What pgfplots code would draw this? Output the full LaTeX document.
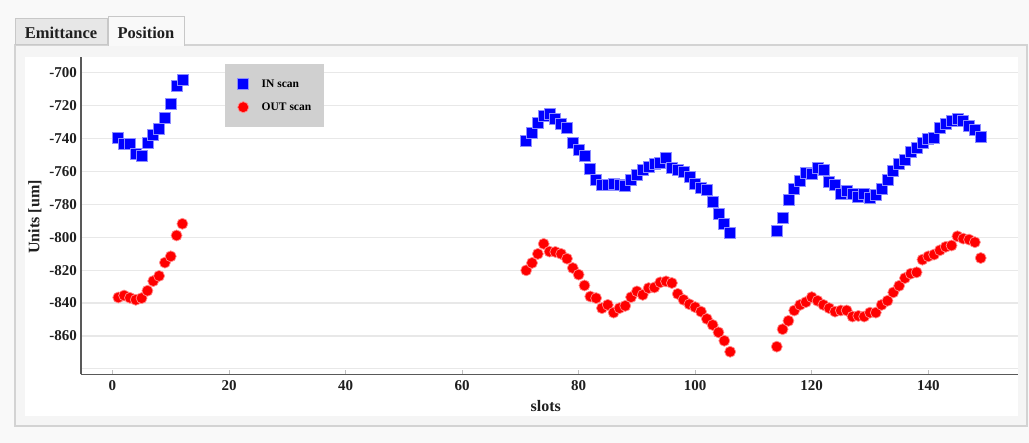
\documentclass[border=0pt]{standalone}
\usepackage{pgfplots}
\pgfplotsset{compat=1.18}
\usepackage{pgfplotstable}
\usepackage{fontspec}
\setmainfont{Liberation Serif}

\definecolor{pagebg}{HTML}{F9F9F9}
\definecolor{panelbg}{HTML}{F5F5F5}
\definecolor{panelrule}{HTML}{D3D3D3}
\definecolor{tabbg}{HTML}{E7E7E7}
\definecolor{tabrule}{HTML}{C8C8C8}
\definecolor{legendbg}{HTML}{D0D0D0}
\definecolor{inblue}{HTML}{0000FF}
\definecolor{outred}{HTML}{FF0000}

% beam position per slot, IN scan
\pgfplotstableread{
slot pos
1 -739.7
2 -742.9
3 -742.9
4 -749.5
5 -750.7
6 -742.6
7 -738.0
8 -734.0
9 -727.3
10 -718.7
11 -708.1
12 -704.1
71 -741.3
72 -736.6
73 -730.5
74 -726.1
75 -725.2
76 -728.1
77 -731.0
78 -733.6
79 -742.3
80 -746.8
81 -750.5
82 -758.6
83 -765.2
84 -768.2
85 -768.2
86 -767.4
87 -768.2
88 -768.8
89 -765.2
90 -762.3
91 -759.2
92 -757.0
93 -755.6
94 -755.0
95 -751.5
96 -757.6
97 -759.2
98 -760.3
99 -763.1
100 -767.8
101 -769.8
102 -771.3
103 -778.4
104 -785.7
105 -791.6
106 -797.3
114 -795.9
115 -788.1
116 -777.0
117 -770.8
118 -765.8
119 -760.7
120 -761.7
121 -758.0
122 -759.2
123 -766.4
124 -768.4
125 -773.9
126 -771.9
127 -773.3
128 -775.3
129 -773.9
130 -775.9
131 -774.5
132 -770.4
133 -765.2
134 -759.7
135 -755.6
136 -752.9
137 -748.0
138 -745.4
139 -742.3
140 -740.3
141 -739.3
142 -733.6
143 -731.1
144 -729.5
145 -728.1
146 -729.5
147 -732.2
148 -734.6
149 -738.9
}\inscan

% beam position per slot, OUT scan
\pgfplotstableread{
slot pos
1 -836.6
2 -835.4
3 -836.8
4 -838.0
5 -837.0
6 -832.5
7 -826.6
8 -823.5
9 -815.4
10 -811.6
11 -798.9
12 -791.8
71 -820.1
72 -815.6
73 -810.1
74 -804.0
75 -808.7
76 -808.9
77 -810.1
78 -813.0
79 -818.7
80 -822.7
81 -829.3
82 -836.0
83 -837.0
84 -843.1
85 -841.1
86 -845.8
87 -843.1
88 -841.7
89 -836.4
90 -832.9
91 -835.0
92 -830.9
93 -830.5
94 -827.4
95 -826.8
96 -827.8
97 -834.4
98 -838.0
99 -840.7
100 -842.5
101 -845.2
102 -849.6
103 -853.3
104 -857.8
105 -862.9
106 -869.6
114 -866.5
115 -855.9
116 -850.8
117 -844.5
118 -841.1
119 -839.4
120 -836.4
121 -838.6
122 -841.1
123 -843.1
124 -845.2
125 -844.5
126 -844.5
127 -848.2
128 -847.8
129 -848.2
130 -845.8
131 -845.8
132 -841.1
133 -838.6
134 -833.5
135 -829.5
136 -824.8
137 -822.1
138 -821.3
139 -813.6
140 -811.6
141 -810.5
142 -807.9
143 -805.8
144 -805.0
145 -799.4
146 -800.8
147 -801.4
148 -803.0
149 -812.6
}\outscan

\begin{document}
\begin{tikzpicture}
% page, panel and tabs
\begin{scope}[x=1bp,y=1bp]
  \fill[pagebg] (0,0) rectangle (1029,443);
  \filldraw[fill=panelbg, draw=panelrule, line width=1.5bp] (15,17) rectangle (1027,398);
  \fill[white] (25,27) rectangle (1018,386);
  \filldraw[fill=tabbg, draw=tabrule, line width=1bp] (15.5,398) rectangle (107.5,424);
  \fill[pagebg] (108.5,396.8) rectangle (184,426);
  \draw[tabrule, line width=1bp] (108.5,397.2) -- (108.5,426) -- (184,426) -- (184,397.2);
  \node[font=\fontsize{16.5bp}{19bp}\selectfont\bfseries, text=black!88] at (61,410) {Emittance};
  \node[font=\fontsize{16.5bp}{19bp}\selectfont\bfseries, text=black!88] at (146,410) {Position};
\end{scope}

\begin{axis}[
  at={(81bp,68.7bp)}, anchor=south west,
  scale only axis, width=937bp, height=317.3bp,
  xmin=-5.4, xmax=155.4, ymin=-883.3, ymax=-690.4,
  axis x line*=bottom, axis y line*=left,
  axis line style={draw=black!65, line width=1.3bp},
  xtick={0,20,40,60,80,100,120,140},
  xticklabels={0,20,40,60,80,100,120,140},
  ytick={-880,-860,-840,-820,-800,-780,-760,-740,-720,-700},
  yticklabels={{},-860,-840,-820,-800,-780,-760,-740,-720,-700},
  tick align=inside,
  major tick length=4bp,
  xtick style={draw=black!25, line width=1bp},
  ytick style={draw=none},
  ymajorgrids,
  grid style={draw=black!9, line width=1.2bp},
  ticklabel style={font=\fontsize{15bp}{18bp}\selectfont\bfseries, text=black!88, inner sep=0pt},
  xticklabel style={yshift=-6.5bp},
  yticklabel style={xshift=-4bp},
  xlabel={slots}, ylabel={Units [um]},
  label style={font=\fontsize{16bp}{19bp}\selectfont\bfseries, text=black!88},
  xlabel style={at={(axis description cs:0.496,-0.118)}, anchor=base},
  ylabel style={at={(axis description cs:-0.0491,0.496)}, anchor=center},
  legend style={at={(axis description cs:0.1537,0.978)}, anchor=north west,
    fill=legendbg, draw=none,
    font=\fontsize{11.5bp}{13bp}\selectfont\bfseries,
    inner xsep=12.5bp, inner ysep=14.5bp, row sep=12bp, column sep=13bp,
    nodes={inner sep=0pt}},
  legend cell align=left,
  legend image code/.code={\draw[#1] plot coordinates {(0bp,0bp)};},
]
\addplot[only marks, mark=square*, mark size=5.5bp,
  mark options={fill=inblue, draw=white!55!inblue, line width=0.7bp}]
  table[x=slot, y=pos] {\inscan};
\addlegendentry{IN scan}
\addplot[only marks, mark=*, mark size=5.5bp,
  mark options={fill=outred, draw=white!55!outred, line width=0.7bp}]
  table[x=slot, y=pos] {\outscan};
\addlegendentry{OUT scan}
\end{axis}

\pgfresetboundingbox
\path[use as bounding box] (0,0) rectangle (1029bp,443bp);
\end{tikzpicture}
\end{document}
